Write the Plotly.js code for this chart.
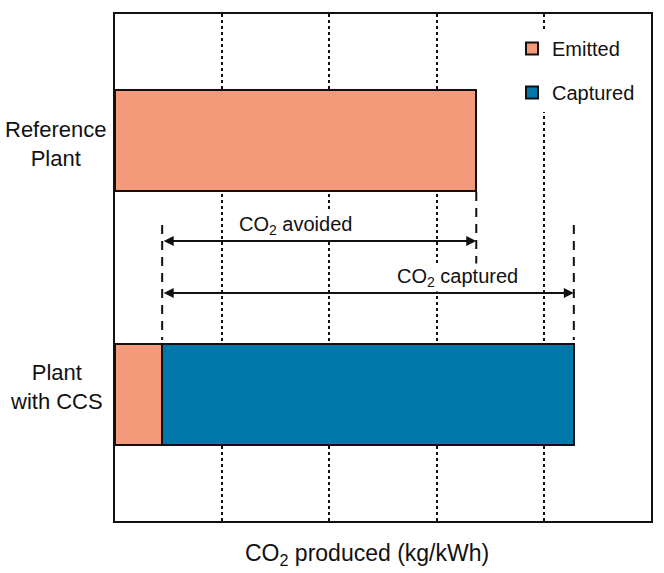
<!DOCTYPE html>
<html>
<head>
<meta charset="utf-8">
<script src="https://cdn.plot.ly/plotly-3.0.1.min.js"></script>
<style>html,body{margin:0;padding:0;background:#fff;}</style>
</head>
<body>
<div id="chart" style="width:664px;height:573px;"></div>
<script>
// Data
const categories = ['Plant with CCS', 'Reference Plant'];
const emittedCats = ['Reference Plant', 'Plant with CCS'];
const emittedValues = [3.37, 0.44];
const capturedCats = ['Plant with CCS'];
const capturedValues = [3.84];
const seriesNames = ['Emitted', 'Captured'];
const categoryLabels = ['Plant<br>with CCS', 'Reference<br>Plant'];

const colEmit = '#F29A7A';
const colCapt = '#0078AA';
const FONT = 'Liberation Sans, Arial, Helvetica, sans-serif';

const refTotal = emittedValues[0];
const ccsEmit = emittedValues[1];
const ccsTotal = emittedValues[1] + capturedValues[0];

const traces = [
  {type:'bar', orientation:'h', name:seriesNames[0], y:emittedCats, x:emittedValues,
   marker:{color:colEmit, line:{color:'#111', width:2}}, width:0.4, legendgroup:'a'},
  {type:'bar', orientation:'h', name:seriesNames[1], y:capturedCats, base:[ccsEmit], x:capturedValues,
   marker:{color:colCapt, line:{color:'#111', width:2}}, width:0.4, legendgroup:'b'}
];

function ypx(p){ return (521 - p) / 507; }
function xpx(p){ return (p - 115) / 536; }

const dash = {color:'#111', width:2, dash:'9px,7px'};
const shapes = [
  {type:'line', xref:'x', yref:'paper', x0:ccsEmit, x1:ccsEmit, y0:ypx(225), y1:ypx(340), line:dash},
  {type:'line', xref:'x', yref:'paper', x0:refTotal, x1:refTotal, y0:ypx(192), y1:ypx(266), line:dash},
  {type:'line', xref:'x', yref:'paper', x0:ccsTotal, x1:ccsTotal, y0:ypx(225), y1:ypx(340), line:dash}
];

const annotations = [
  // double-headed arrows
  {xref:'x', yref:'paper', axref:'x', ayref:'paper', x:refTotal, y:ypx(241), ax:ccsEmit, ay:ypx(241),
   text:'', showarrow:true, arrowhead:2, startarrowhead:2, arrowside:'end+start', arrowsize:1, arrowwidth:2, arrowcolor:'#111'},
  {xref:'x', yref:'paper', axref:'x', ayref:'paper', x:ccsTotal, y:ypx(293), ax:ccsEmit, ay:ypx(293),
   text:'', showarrow:true, arrowhead:2, startarrowhead:2, arrowside:'end+start', arrowsize:1, arrowwidth:2, arrowcolor:'#111'},
  {xref:'paper', yref:'paper', x:xpx(295), y:ypx(225), xanchor:'center', yanchor:'middle',
   text:'CO<sub>2</sub> avoided', showarrow:false, bgcolor:'#fff', font:{family:FONT, size:20, color:'#111'}},
  {xref:'paper', yref:'paper', x:xpx(457), y:ypx(277), xanchor:'center', yanchor:'middle',
   text:'CO<sub>2</sub> captured', showarrow:false, bgcolor:'#fff', font:{family:FONT, size:20, color:'#111'}},
  // category labels (centered)
  {xref:'paper', yref:'y', x:xpx(56), y:categories[1], xanchor:'center', yanchor:'middle', yshift:-3,
   text:categoryLabels[1], showarrow:false, align:'center', font:{family:FONT, size:22, color:'#111'}},
  {xref:'paper', yref:'y', x:xpx(56), y:categories[0], xanchor:'center', yanchor:'middle', yshift:7,
   text:categoryLabels[0], showarrow:false, align:'center', font:{family:FONT, size:22, color:'#111'}},
  // x-axis title
  {xref:'paper', yref:'paper', x:xpx(367), y:ypx(554), xanchor:'center', yanchor:'middle',
   text:'CO<sub>2</sub> produced (kg/kWh)', showarrow:false, font:{family:FONT, size:23, color:'#111'}}
];

const layout = {
  width:664, height:573,
  margin:{l:115, r:13, t:14, b:52},
  paper_bgcolor:'#fff', plot_bgcolor:'#fff',
  font:{family:FONT, color:'#111'},
  barmode:'stack',
  showlegend:true,
  legend:{x:xpx(512), xanchor:'left', y:ypx(29), yanchor:'top', bgcolor:'#fff', borderwidth:0,
          font:{family:FONT, size:20, color:'#111'}, traceorder:'grouped', tracegroupgap:15},
  xaxis:{range:[0,5], dtick:1, tick0:0, showticklabels:false, ticks:'', showgrid:true,
         gridcolor:'#111', gridwidth:2, griddash:'dot', zeroline:false,
         showline:true, linecolor:'#111', linewidth:2, mirror:true, fixedrange:true},
  yaxis:{type:'category', categoryorder:'array', categoryarray:categories, range:[-0.5,1.5],
         showticklabels:false, ticks:'', showgrid:false, zeroline:false,
         showline:true, linecolor:'#111', linewidth:2, mirror:true, fixedrange:true},
  shapes:shapes,
  annotations:annotations
};

Plotly.newPlot('chart', traces, layout, {displayModeBar:false, staticPlot:true});
</script>
</body>
</html>
